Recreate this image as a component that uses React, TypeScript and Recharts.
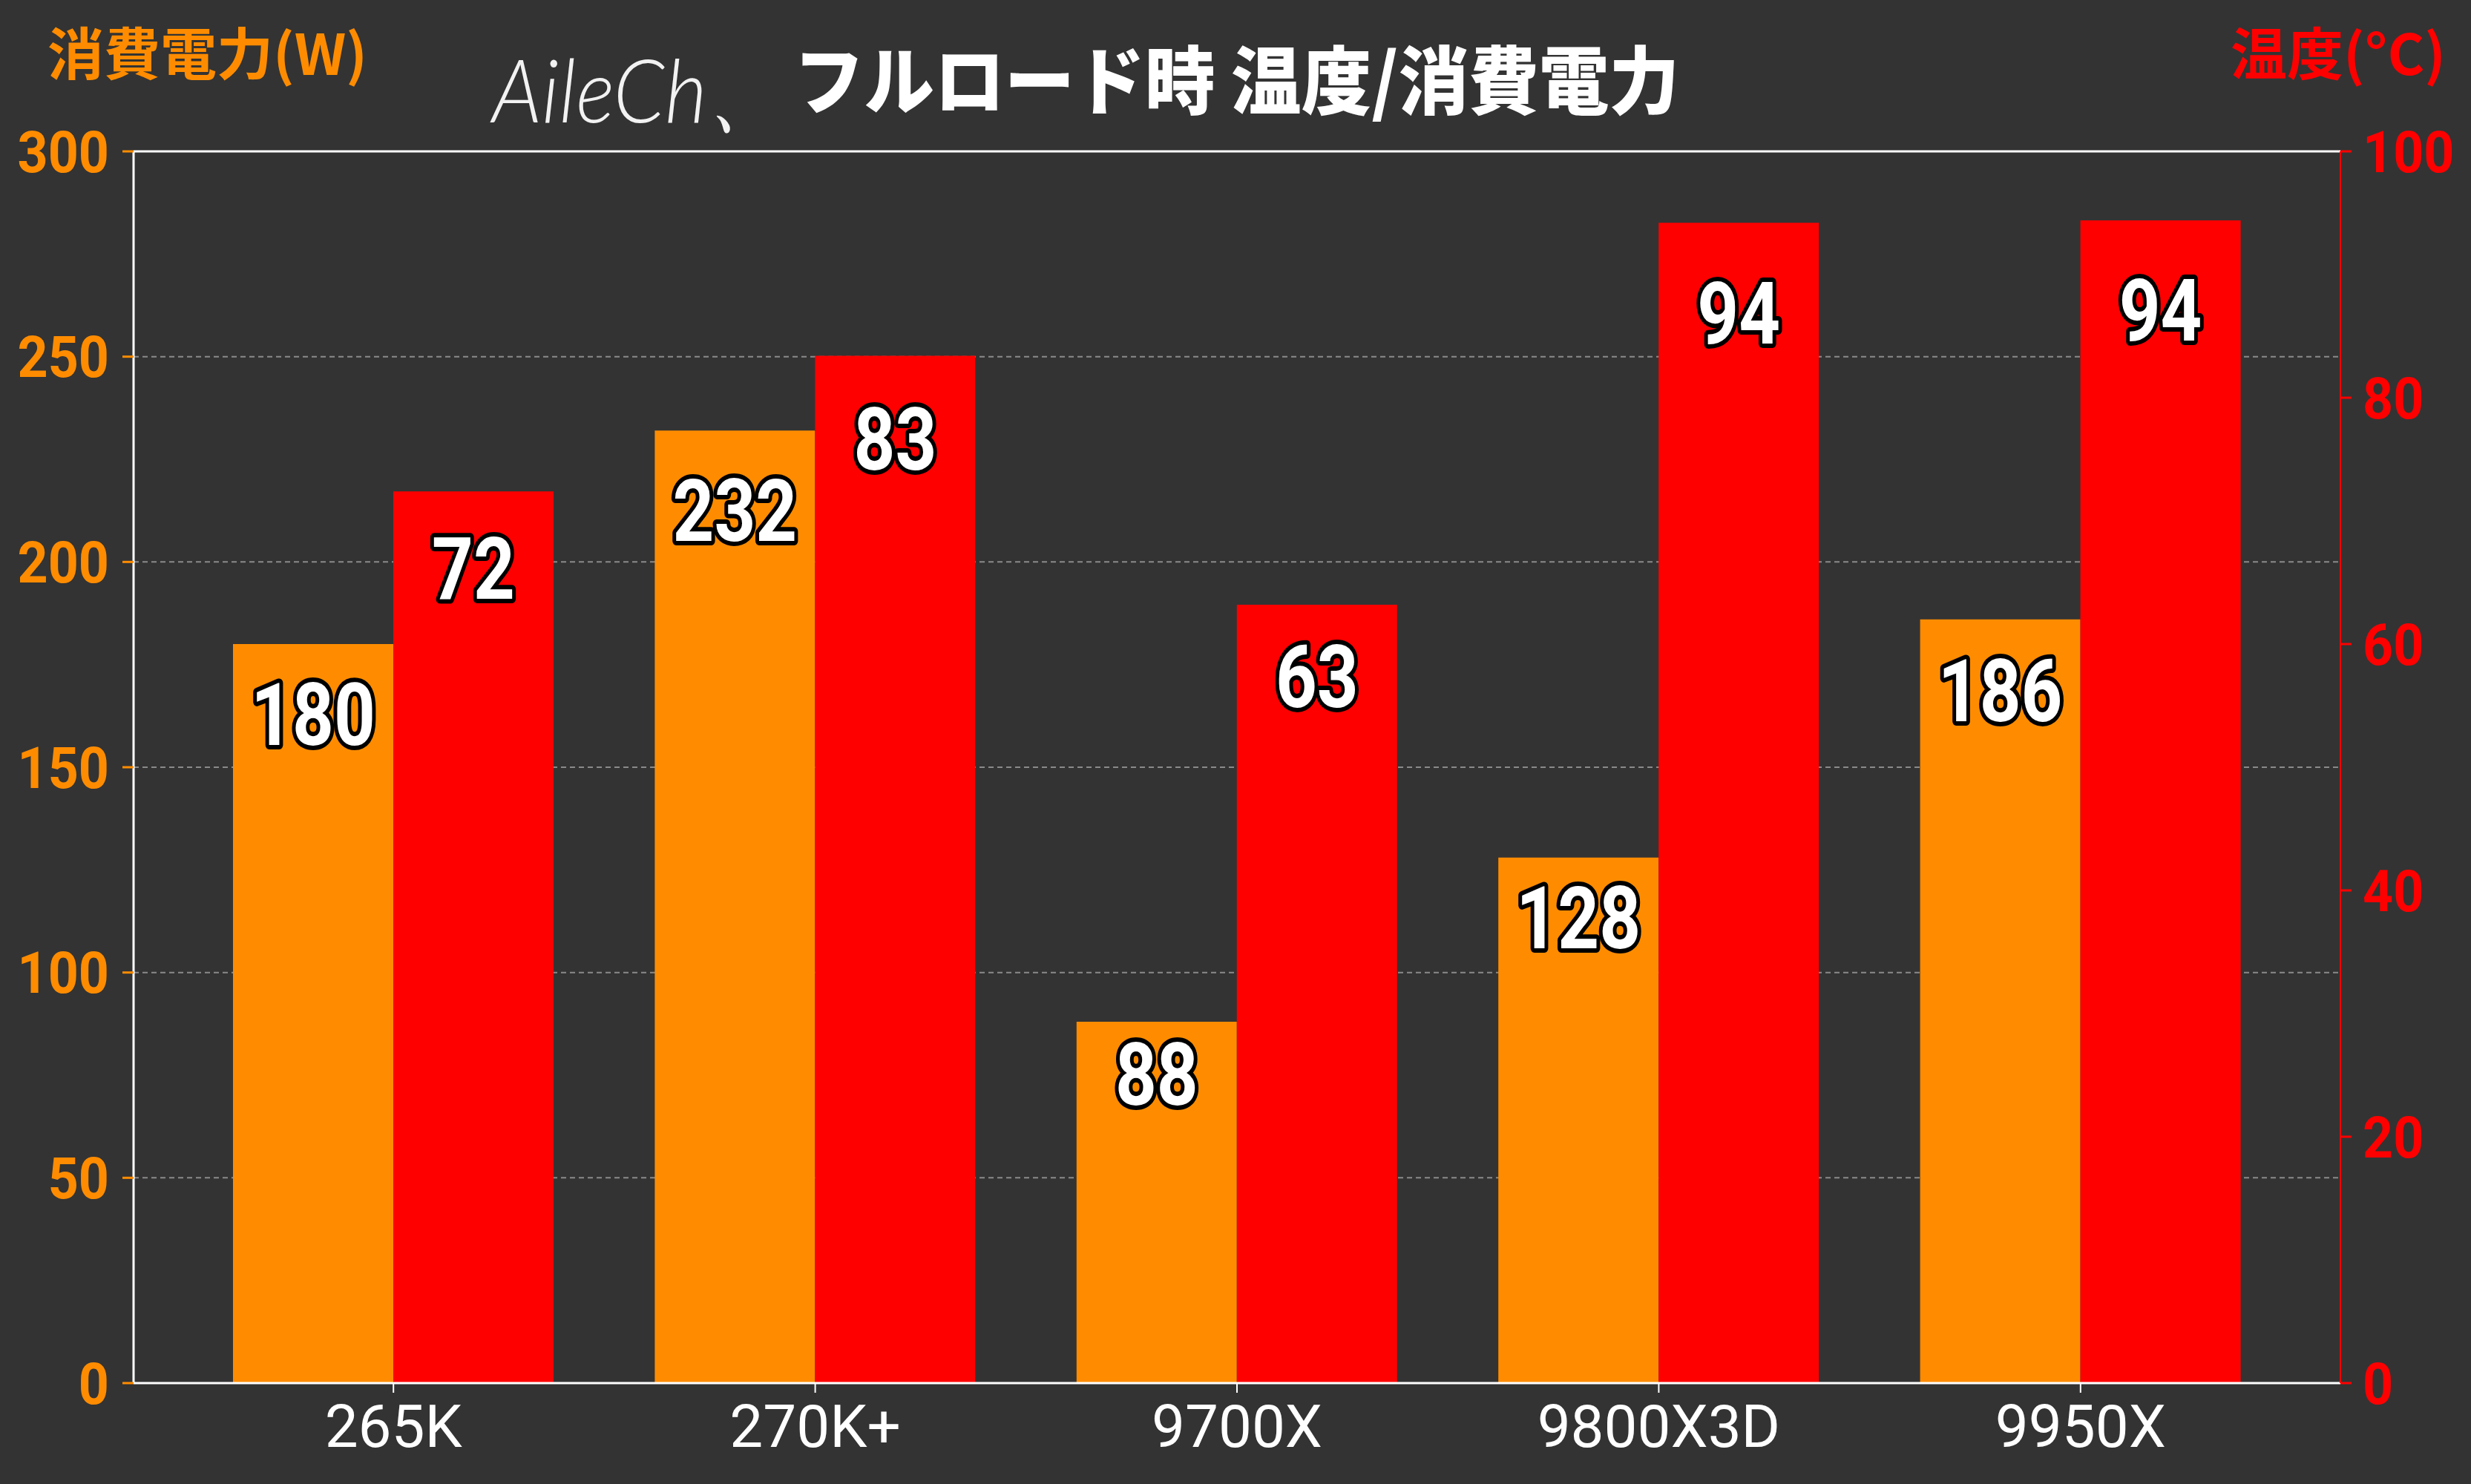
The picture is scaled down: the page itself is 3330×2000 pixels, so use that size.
import React from "react";
import {
  Bar,
  BarChart,
  CartesianGrid,
  LabelList,
  ReferenceLine,
  XAxis,
  YAxis,
} from "recharts";

// values
const categories = ["265K", "270K+", "9700X", "9800X3D", "9950X"];
const powerW = [180, 232, 88, 128, 186];
const tempC = [72.4, 83.4, 63.2, 94.2, 94.4];
const powerTicks = [0, 50, 100, 150, 200, 250, 300];
const tempTicks = [0, 20, 40, 60, 80, 100];

const ORANGE = "#FF8C00";
const RED = "#FF0000";
const BG = "#333333";
const NUM_FONT = "Roboto, 'DejaVu Sans', sans-serif";
const JP_FONT = "'Noto Sans CJK JP', 'Noto Sans', sans-serif";

const data = categories.map((name, i) => ({
  name,
  power: powerW[i],
  temp: tempC[i],
}));

type LabelArgs = {
  x?: number;
  y?: number;
  width?: number;
  height?: number;
  value?: number;
};

// outlined white number, sitting a bit below the top of the bar
const BarValueLabel = (props: LabelArgs) => {
  const { x = 0, y = 0, width = 0, height = 0, value = 0 } = props;
  const fontSize = 116;
  const center = y + 47 + 0.047 * height;
  return (
    <g transform={`translate(${x + width / 2},${center}) scale(0.84,1)`}>
      <text
        x={0}
        y={fontSize * 0.36}
        textAnchor="middle"
        fontFamily={NUM_FONT}
        fontWeight={700}
        fontSize={fontSize}
        fill="#ffffff"
        stroke="#000000"
        strokeWidth={12}
        strokeLinejoin="round"
        paintOrder="stroke"
      >
        {Math.round(Number(value))}
      </text>
    </g>
  );
};

type TickArgs = {
  x?: number;
  y?: number;
  textAnchor?: string;
  payload?: { value: number };
};

// slightly condensed bold axis numbers
const makeSideTick = (color: string) => (props: TickArgs) => {
  const { x = 0, y = 0, textAnchor = "end", payload } = props;
  return (
    <g transform={`translate(${x},${y}) scale(0.92,1)`}>
      <text
        x={0}
        y={0}
        dy="0.355em"
        textAnchor={textAnchor as any}
        fontFamily={NUM_FONT}
        fontWeight={700}
        fontSize={78}
        fill={color}
      >
        {payload?.value}
      </text>
    </g>
  );
};

const LeftTick = makeSideTick(ORANGE);
const RightTick = makeSideTick(RED);

const Titles = () => (
  <svg
    width={3330}
    height={2000}
    style={{ position: "absolute", left: 0, top: 0, pointerEvents: "none" }}
  >
    <text
      x={64}
      y={101}
      fontFamily={JP_FONT}
      fontWeight={700}
      fontSize={76}
      fill={ORANGE}
    >
      消費電力(W)
    </text>
    <text
      x={3296}
      y={101}
      textAnchor="end"
      fontFamily={JP_FONT}
      fontWeight={700}
      fontSize={76}
      fill={RED}
    >
      温度(°C)
    </text>
    <text
      x={663}
      y={165}
      fontFamily="Lato, 'Open Sans', sans-serif"
      fontStyle="italic"
      fontWeight={300}
      fontSize={118}
      fill="#f2f2f2"
      textLength={400}
      lengthAdjust="spacingAndGlyphs"
    >
      AileCh、
    </text>
    <text
      x={1070}
      y={146}
      fontFamily={JP_FONT}
      fontWeight={900}
      fontSize={100}
      fill="#ffffff"
      textLength={1193}
      lengthAdjust="spacingAndGlyphs"
    >
      フルロード時 温度/消費電力
    </text>
  </svg>
);

const App = () => {
  return (
    <div
      style={{
        position: "absolute",
        left: 0,
        top: 0,
        width: 3330,
        height: 2000,
        background: BG,
      }}
    >
      <BarChart
        width={3330}
        height={2000}
        data={data}
        margin={{ top: 204, right: 0, bottom: 0, left: 0 }}
        barGap={0}
        barSize={216}
      >
        <CartesianGrid
          yAxisId="left"
          vertical={false}
          stroke="#8a8a8a"
          strokeWidth={2}
          strokeDasharray="7 5"
        />
        <XAxis
          dataKey="name"
          height={136}
          padding={{ left: 66, right: 66 }}
          axisLine={{ stroke: "#ffffff", strokeWidth: 3 }}
          tickLine={{ stroke: "#ffffff", strokeWidth: 2 }}
          tickSize={13}
          tickMargin={16}
          tick={{ fill: "#ffffff", fontSize: 80, fontFamily: NUM_FONT }}
        />
        <YAxis
          yAxisId="left"
          orientation="left"
          width={180}
          domain={[0, 300]}
          ticks={powerTicks}
          interval={0}
          axisLine={{ stroke: "#ffffff", strokeWidth: 3 }}
          tickLine={{ stroke: ORANGE, strokeWidth: 3 }}
          tickSize={15}
          tickMargin={18}
          tick={<LeftTick />}
        />
        <YAxis
          yAxisId="right"
          orientation="right"
          width={176}
          domain={[0, 100]}
          ticks={tempTicks}
          interval={0}
          axisLine={{ stroke: RED, strokeWidth: 2 }}
          tickLine={{ stroke: RED, strokeWidth: 3 }}
          tickSize={15}
          tickMargin={15}
          tick={<RightTick />}
        />
        <ReferenceLine
          yAxisId="left"
          y={300}
          stroke="#ffffff"
          strokeWidth={3}
        />
        <Bar
          yAxisId="left"
          dataKey="power"
          fill={ORANGE}
          isAnimationActive={false}
        >
          <LabelList dataKey="power" content={<BarValueLabel />} />
        </Bar>
        <Bar
          yAxisId="right"
          dataKey="temp"
          fill={RED}
          isAnimationActive={false}
        >
          <LabelList dataKey="temp" content={<BarValueLabel />} />
        </Bar>
      </BarChart>
      <Titles />
    </div>
  );
};

export default App;
